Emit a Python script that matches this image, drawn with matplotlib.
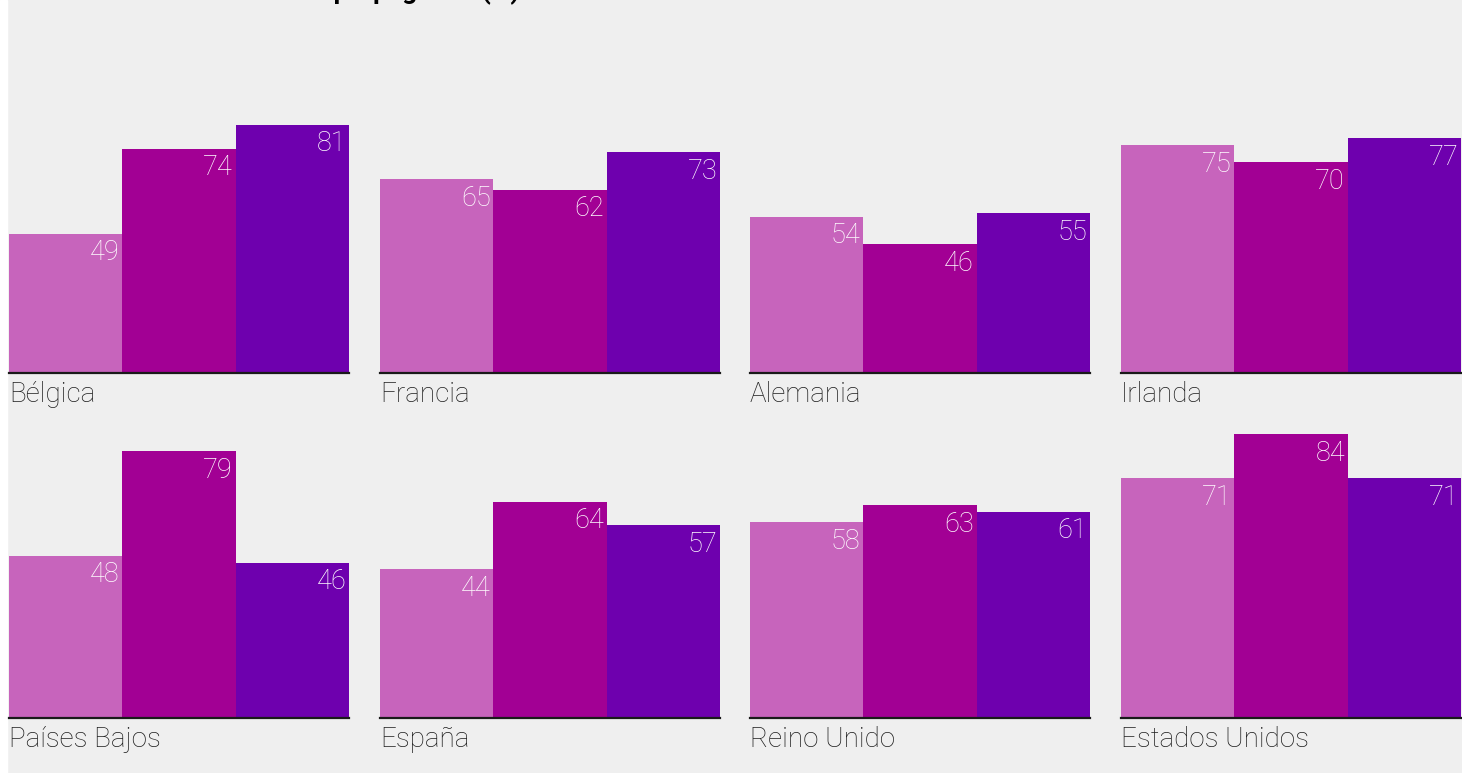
import matplotlib
matplotlib.use("Agg")
import matplotlib.pyplot as plt
from matplotlib.patches import Rectangle

plt.rcParams['font.family'] = ['Roboto', 'DejaVu Sans']

countries = ['Bélgica', 'Francia', 'Alemania', 'Irlanda',
             'Países Bajos', 'España', 'Reino Unido', 'Estados Unidos']
serie_a = [49, 65, 54, 75, 48, 44, 58, 71]
serie_b = [74, 62, 46, 70, 79, 64, 63, 84]
serie_c = [81, 73, 55, 77, 46, 57, 61, 71]
colors = ['#C764BC', '#A20094', '#6E00AE']
title = 'Alarma ante noticia falsa o propaganda (%)'

W, H = 1462, 773
BG = '#EFEFEF'

fig = plt.figure(figsize=(W / 100, H / 100), dpi=100, facecolor=BG)
fig.patches.append(Rectangle((0, 0), 7 / W, 1, transform=fig.transFigure,
                             color='white', zorder=-1))

fig.text(9 / W, 1 + 1 / H, title, fontsize=19, fontweight='bold',
         color='black', ha='left', va='baseline')

panel_left = [9, 380, 750, 1121]
panel_w = 340
# (baseline px, y limits, px per unit)
rows = [(373, (8.2, 90), 3.41), (718, (0, 88), 3.38)]

for i, name in enumerate(countries):
    r, c = divmod(i, 4)
    base, ylim, ppu = rows[r]
    h = (ylim[1] - ylim[0]) * ppu
    ax = fig.add_axes([panel_left[c] / W, (H - base) / H, panel_w / W, h / H])
    ax.set_facecolor('none')
    vals = [serie_a[i], serie_b[i], serie_c[i]]
    ax.bar(range(3), vals, width=1.0, color=colors, linewidth=0)
    ax.set_xlim(-0.5, 2.5)
    ax.set_ylim(*ylim)
    for k, v in enumerate(vals):
        ax.annotate(str(v), (k + 0.5, v), xytext=(-2, -4), textcoords='offset points',
                    ha='right', va='top', color='white', fontsize=19.5,
                    fontweight='light')
    ax.axhline(ylim[0], color='#1a1a1a', lw=1.6, clip_on=False)
    ax.annotate(name, (0, 0), xycoords='axes fraction', xytext=(0, -21),
                textcoords='offset points', ha='left', va='baseline',
                color='#1e1e1e', fontsize=20, fontweight='light')
    for s in ax.spines.values():
        s.set_visible(False)
    ax.set_xticks([])
    ax.set_yticks([])

fig.savefig('out.png', dpi=100, facecolor=BG)
